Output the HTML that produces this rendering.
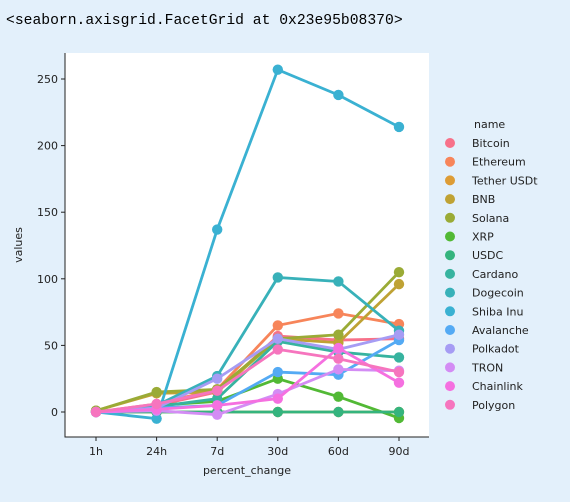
<!DOCTYPE html>
<html><head><meta charset="utf-8"><style>
body{margin:0;background:#e3f0fb;width:570px;height:497px;overflow:hidden}
</style></head><body>
<svg width="570" height="497" xmlns="http://www.w3.org/2000/svg" font-family="DejaVu Sans, Liberation Sans, sans-serif">
<rect width="570" height="497" fill="#e3f0fb"/>
<text x="6" y="24" font-family="Liberation Mono, DejaVu Sans Mono, monospace" font-size="14.7" fill="#000">&lt;seaborn.axisgrid.FacetGrid at 0x23e95b08370&gt;</text>
<rect x="65" y="53" width="364" height="384" fill="#fff"/>
<g id="marks"></g>
<line x1="65" y1="53" x2="65" y2="437.5" stroke="#222" stroke-width="1"/>
<line x1="64.5" y1="437" x2="429" y2="437" stroke="#222" stroke-width="1"/>
<g id="axes"></g>
<text x="247" y="474" font-size="11" text-anchor="middle" fill="#222">percent_change</text>
<text transform="translate(22,245) rotate(-90)" font-size="11" text-anchor="middle" fill="#222">values</text>
<text x="474" y="128" font-size="11" fill="#222">name</text>
<g id="legend"></g>
</svg>
<script>
const categories=["1h","24h","7d","30d","60d","90d"];
const names=["Bitcoin","Ethereum","Tether USDt","BNB","Solana","XRP","USDC","Cardano","Dogecoin","Shiba Inu","Avalanche","Polkadot","TRON","Chainlink","Polygon"];
const colors=["#f77189","#f7855a","#dd9c35","#bfa234","#9aab36","#52b935","#35b47e","#37b39f","#38b1b9","#3ab1d2","#54aaf4","#a69cf4","#d38cf4","#f570e0","#f675be"];
const yTicks=[0,50,100,150,200,250];
const vBitcoin=[0,5,15,57,54,55];
const vEthereum=[0,6,17,65,74,66];
const vTether=[0,0,0,0,0,0];
const vBNB=[1,14,15,55,52,96];
const vSolana=[1,15,17,55,58,105];
const vXRP=[0,5,8,25,11.5,-4.5];
const vUSDC=[0,0,0,0,0,0];
const vCardano=[0,4,10,53,45,41];
const vDogecoin=[0,5,27,101,98,61];
const vShiba=[0,-5,137,257,238,214];
const vAvalanche=[0,3,5,30,28,54];
const vPolkadot=[0,3,25,55,47,58];
const vTRON=[0,1,-2,13.5,32,31];
const vChainlink=[0,2,5,10,48,22];
const vPolygon=[0,6,16,47,40,30];
const series=[vBitcoin,vEthereum,vTether,vBNB,vSolana,vXRP,vUSDC,vCardano,vDogecoin,vShiba,vAvalanche,vPolkadot,vTRON,vChainlink,vPolygon];
const NS="http://www.w3.org/2000/svg";
function xs(i){return 96+i*60.6;}
function ys(v){return 412-v*1.332;}
function mk(t,a){const e=document.createElementNS(NS,t);for(const k in a)e.setAttribute(k,a[k]);return e;}
const axes=document.getElementById('axes');
yTicks.forEach(t=>{
  const l=mk('line',{x1:61,x2:65,y1:ys(t),y2:ys(t),stroke:'#222'});
  
  
  axes.appendChild(l);
  const tx=mk('text',{x:58,y:ys(t)+4,'font-size':11,'text-anchor':'end',fill:'#222'});
  tx.textContent=t;
  
  
  axes.appendChild(tx);
});
categories.forEach((c,i)=>{
  const l=mk('line',{x1:xs(i),x2:xs(i),y1:437,y2:441,stroke:'#222'});
  
  
  axes.appendChild(l);
  const tx=mk('text',{x:xs(i),y:455,'font-size':11,'text-anchor':'middle',fill:'#222'});
  tx.textContent=c;
  
  
  axes.appendChild(tx);
});
const marks=document.getElementById('marks');
series.forEach((s,k)=>{
  const g=mk('g',{});
  
  
  const pl=mk('polyline',{points:s.map((v,i)=>xs(i)+','+ys(v)).join(' '),fill:'none',stroke:colors[k],'stroke-width':2.8});
  
  
  g.appendChild(pl);
  s.forEach((v,i)=>{
    const c=mk('circle',{cx:xs(i),cy:ys(v),r:5.2,fill:colors[k]});
    
    
    g.appendChild(c);
  });
  marks.appendChild(g);
});
const lg=document.getElementById('legend');
names.forEach((n,k)=>{
  const y=143+k*18.7;
  const c=mk('circle',{cx:450,cy:y,r:5,fill:colors[k]});
  
  
  lg.appendChild(c);
  const t=mk('text',{x:472,y:y+4,'font-size':11,fill:'#222'});
  t.textContent=n;
  
  
  lg.appendChild(t);
});
</script>
</body></html>
